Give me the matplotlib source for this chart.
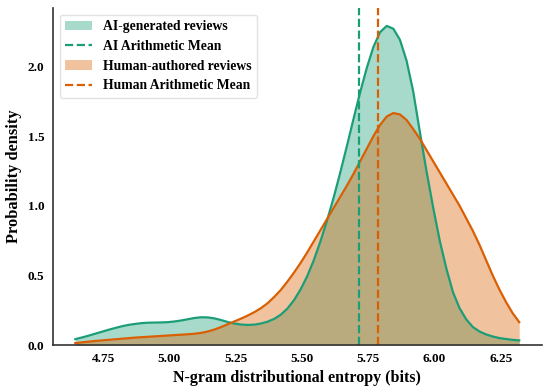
import matplotlib
matplotlib.use("Agg")
import matplotlib.pyplot as plt
from matplotlib.patches import Patch
from matplotlib.lines import Line2D

plt.rcParams['font.family'] = ['Liberation Serif', 'DejaVu Serif']
plt.rcParams['font.weight'] = 'bold'

# Entropy grid (bits) where densities were read
entropy = [4.645 + 0.025 * i for i in range(68)]

ai_density = [
    0.043, 0.055, 0.068, 0.082, 0.096, 0.110, 0.123, 0.135, 0.145, 0.152,
    0.158, 0.161, 0.162, 0.163, 0.165, 0.170, 0.177, 0.186, 0.195, 0.200,
    0.199, 0.192, 0.180, 0.166, 0.155, 0.148, 0.145, 0.147, 0.155, 0.168,
    0.188, 0.218, 0.262, 0.322, 0.400, 0.495, 0.610, 0.745, 0.895, 1.060,
    1.240, 1.430, 1.625, 1.815, 1.990, 2.140, 2.245, 2.290, 2.270, 2.190,
    2.040, 1.820, 1.530, 1.250, 0.990, 0.750, 0.550, 0.380, 0.265, 0.185,
    0.130, 0.098, 0.077, 0.062, 0.051, 0.044, 0.038, 0.034,
]

human_density = [
    0.015, 0.020, 0.025, 0.030, 0.034, 0.038, 0.042, 0.046, 0.050, 0.054,
    0.057, 0.060, 0.063, 0.066, 0.069, 0.072, 0.075, 0.078, 0.082, 0.088,
    0.098, 0.112, 0.130, 0.150, 0.170, 0.190, 0.212, 0.236, 0.265, 0.300,
    0.345, 0.395, 0.455, 0.520, 0.590, 0.665, 0.745, 0.825, 0.905, 0.985,
    1.065, 1.145, 1.230, 1.320, 1.410, 1.500, 1.580, 1.640, 1.665, 1.655,
    1.615, 1.550, 1.480, 1.400, 1.320, 1.240, 1.160, 1.080, 1.000, 0.910,
    0.820, 0.720, 0.610, 0.500, 0.400, 0.310, 0.230, 0.165,
]

ai_mean = 5.716
human_mean = 5.788

xtick_labels = ['4.75', '5.00', '5.25', '5.50', '5.75', '6.00', '6.25']
ytick_labels = ['0.0', '0.5', '1.0', '1.5', '2.0']

green = '#1b9e77'
orange = '#d95f02'

fig = plt.figure(figsize=(5.5, 3.9), dpi=100)
ax = fig.add_axes([0.096, 0.115, 0.889, 0.865])

ax.fill_between(entropy, ai_density, color=green, alpha=0.38, linewidth=0)
ax.plot(entropy, ai_density, color=green, linewidth=1.6)
ax.fill_between(entropy, human_density, color=orange, alpha=0.38, linewidth=0)
ax.plot(entropy, human_density, color=orange, linewidth=1.6)

ax.axvline(ai_mean, color=green, linestyle='--', linewidth=1.6)
ax.axvline(human_mean, color=orange, linestyle='--', linewidth=1.6)

ax.set_xlim(4.56, 6.405)
ax.set_ylim(0, 2.42)
ax.set_xticks([float(t) for t in xtick_labels])
ax.set_xticklabels(xtick_labels)
ax.set_yticks([float(t) for t in ytick_labels])
ax.set_yticklabels(ytick_labels)
ax.tick_params(length=0, pad=6, labelsize=9.5)
for lab in ax.get_xticklabels() + ax.get_yticklabels():
    lab.set_fontweight('bold')

for s in ['top', 'right']:
    ax.spines[s].set_visible(False)
for s in ['left', 'bottom']:
    ax.spines[s].set_color('#333333')
    ax.spines[s].set_linewidth(1.2)

ax.set_xlabel('N-gram distributional entropy (bits)', fontsize=11.5, fontweight='bold', labelpad=3)
ax.set_ylabel('Probability density', fontsize=11.8, fontweight='bold', labelpad=4)

handles = [
    Patch(facecolor=green, alpha=0.38, edgecolor='none'),
    Line2D([0], [0], color=green, linestyle='--', linewidth=1.6),
    Patch(facecolor=orange, alpha=0.38, edgecolor='none'),
    Line2D([0], [0], color=orange, linestyle='--', linewidth=1.6),
]
labels = ['AI-generated reviews', 'AI Arithmetic Mean',
          'Human-authored reviews', 'Human Arithmetic Mean']
leg = ax.legend(handles, labels, loc='upper left',
                prop={'weight': 'bold', 'size': 9.8}, frameon=True)
leg.get_frame().set_edgecolor('#dddddd')

fig.savefig('out.png', dpi=100)
